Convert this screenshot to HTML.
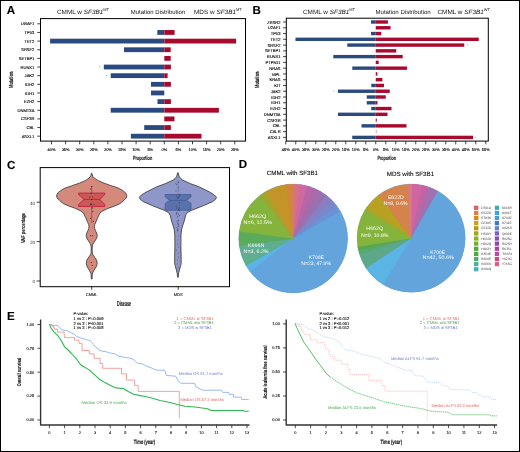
<!DOCTYPE html>
<html><head><meta charset="utf-8"><style>
html,body{margin:0;padding:0;background:#fff;}
svg{display:block;will-change:transform;text-rendering:geometricPrecision;font-family:"Liberation Sans", sans-serif;}
</style></head><body>
<svg width="520" height="452" viewBox="0 0 520 452" font-family='"Liberation Sans", sans-serif'>
<rect width="520" height="452" fill="#fff"/>
<rect x="0.5" y="0.5" width="519" height="451" fill="none" stroke="#000" stroke-width="1"/>
<text x="6.8" y="13.9" font-size="11.6" text-anchor="start" fill="#000" stroke="#000" stroke-width="0.12" font-weight="bold">A</text>
<text x="252.4" y="13.7" font-size="11.6" text-anchor="start" fill="#000" stroke="#000" stroke-width="0.12" font-weight="bold">B</text>
<text x="7.1" y="168.5" font-size="11.6" text-anchor="start" fill="#000" stroke="#000" stroke-width="0.12" font-weight="bold">C</text>
<text x="238.8" y="168.1" font-size="11.6" text-anchor="start" fill="#000" stroke="#000" stroke-width="0.12" font-weight="bold">D</text>
<text x="7.0" y="319.7" font-size="11.6" text-anchor="start" fill="#000" stroke="#000" stroke-width="0.12" font-weight="bold">E</text>
<rect x="157.30" y="30.05" width="7.00" height="4.80" fill="#2b4b80"/>
<rect x="164.30" y="30.05" width="10.30" height="4.80" fill="#a80a2e"/>
<rect x="50.10" y="38.69" width="114.20" height="4.80" fill="#2b4b80"/>
<rect x="164.30" y="38.69" width="71.80" height="4.80" fill="#a80a2e"/>
<rect x="124.00" y="47.34" width="40.30" height="4.80" fill="#2b4b80"/>
<rect x="164.30" y="47.34" width="6.40" height="4.80" fill="#a80a2e"/>
<rect x="164.30" y="55.98" width="6.40" height="4.80" fill="#a80a2e"/>
<rect x="103.80" y="64.62" width="60.50" height="4.80" fill="#2b4b80"/>
<rect x="164.30" y="64.62" width="6.60" height="4.80" fill="#a80a2e"/>
<rect x="110.70" y="73.27" width="53.60" height="4.80" fill="#2b4b80"/>
<rect x="164.30" y="73.27" width="3.30" height="4.80" fill="#a80a2e"/>
<rect x="151.00" y="81.91" width="13.30" height="4.80" fill="#2b4b80"/>
<rect x="164.30" y="81.91" width="6.60" height="4.80" fill="#a80a2e"/>
<rect x="151.00" y="90.56" width="13.30" height="4.80" fill="#2b4b80"/>
<rect x="157.50" y="99.20" width="6.80" height="4.80" fill="#2b4b80"/>
<rect x="164.30" y="99.20" width="6.60" height="4.80" fill="#a80a2e"/>
<rect x="110.70" y="107.85" width="53.60" height="4.80" fill="#2b4b80"/>
<rect x="164.30" y="107.85" width="54.60" height="4.80" fill="#a80a2e"/>
<rect x="164.30" y="116.49" width="10.20" height="4.80" fill="#a80a2e"/>
<rect x="144.20" y="125.14" width="20.10" height="4.80" fill="#2b4b80"/>
<rect x="164.30" y="125.14" width="6.60" height="4.80" fill="#a80a2e"/>
<rect x="130.90" y="133.78" width="33.40" height="4.80" fill="#2b4b80"/>
<rect x="164.30" y="133.78" width="37.20" height="4.80" fill="#a80a2e"/>
<circle cx="99.8" cy="66.725" r="0.45" fill="#333"/>
<circle cx="106.6" cy="75.37" r="0.45" fill="#333"/>
<rect x="40.5" y="18.6" width="205.0" height="122.5" fill="none" stroke="#000" stroke-width="1"/>
<line x1="37.3" y1="23.8" x2="40.5" y2="23.8" stroke="#111" stroke-width="0.8"/>
<text x="34.4" y="25.400000000000002" font-size="4.1" text-anchor="end" fill="#000" stroke="#000" stroke-width="0.12">UGAF1</text>
<line x1="37.3" y1="32.445" x2="40.5" y2="32.445" stroke="#111" stroke-width="0.8"/>
<text x="34.4" y="34.045" font-size="4.1" text-anchor="end" fill="#000" stroke="#000" stroke-width="0.12">TP53</text>
<line x1="37.3" y1="41.09" x2="40.5" y2="41.09" stroke="#111" stroke-width="0.8"/>
<text x="34.4" y="42.690000000000005" font-size="4.1" text-anchor="end" fill="#000" stroke="#000" stroke-width="0.12">TET2</text>
<line x1="37.3" y1="49.735" x2="40.5" y2="49.735" stroke="#111" stroke-width="0.8"/>
<text x="34.4" y="51.335" font-size="4.1" text-anchor="end" fill="#000" stroke="#000" stroke-width="0.12">SRSF2</text>
<line x1="37.3" y1="58.379999999999995" x2="40.5" y2="58.379999999999995" stroke="#111" stroke-width="0.8"/>
<text x="34.4" y="59.98" font-size="4.1" text-anchor="end" fill="#000" stroke="#000" stroke-width="0.12">SETBP1</text>
<line x1="37.3" y1="67.02499999999999" x2="40.5" y2="67.02499999999999" stroke="#111" stroke-width="0.8"/>
<text x="34.4" y="68.62499999999999" font-size="4.1" text-anchor="end" fill="#000" stroke="#000" stroke-width="0.12">RUNX1</text>
<line x1="37.3" y1="75.67" x2="40.5" y2="75.67" stroke="#111" stroke-width="0.8"/>
<text x="34.4" y="77.27" font-size="4.1" text-anchor="end" fill="#000" stroke="#000" stroke-width="0.12">JAK2</text>
<line x1="37.3" y1="84.315" x2="40.5" y2="84.315" stroke="#111" stroke-width="0.8"/>
<text x="34.4" y="85.91499999999999" font-size="4.1" text-anchor="end" fill="#000" stroke="#000" stroke-width="0.12">IDH2</text>
<line x1="37.3" y1="92.96" x2="40.5" y2="92.96" stroke="#111" stroke-width="0.8"/>
<text x="34.4" y="94.55999999999999" font-size="4.1" text-anchor="end" fill="#000" stroke="#000" stroke-width="0.12">IDH1</text>
<line x1="37.3" y1="101.60499999999999" x2="40.5" y2="101.60499999999999" stroke="#111" stroke-width="0.8"/>
<text x="34.4" y="103.20499999999998" font-size="4.1" text-anchor="end" fill="#000" stroke="#000" stroke-width="0.12">EZH2</text>
<line x1="37.3" y1="110.24999999999999" x2="40.5" y2="110.24999999999999" stroke="#111" stroke-width="0.8"/>
<text x="34.4" y="111.84999999999998" font-size="4.1" text-anchor="end" fill="#000" stroke="#000" stroke-width="0.12">DNMT3A</text>
<line x1="37.3" y1="118.895" x2="40.5" y2="118.895" stroke="#111" stroke-width="0.8"/>
<text x="34.4" y="120.49499999999999" font-size="4.1" text-anchor="end" fill="#000" stroke="#000" stroke-width="0.12">CSF3R</text>
<line x1="37.3" y1="127.53999999999999" x2="40.5" y2="127.53999999999999" stroke="#111" stroke-width="0.8"/>
<text x="34.4" y="129.14" font-size="4.1" text-anchor="end" fill="#000" stroke="#000" stroke-width="0.12">CBL</text>
<line x1="37.3" y1="136.185" x2="40.5" y2="136.185" stroke="#111" stroke-width="0.8"/>
<text x="34.4" y="137.785" font-size="4.1" text-anchor="end" fill="#000" stroke="#000" stroke-width="0.12">ASXL1</text>
<line x1="51.500000000000014" y1="141.1" x2="51.500000000000014" y2="144.29999999999998" stroke="#111" stroke-width="0.8"/>
<text x="51.500000000000014" y="151.0" font-size="3.9" text-anchor="middle" fill="#000" stroke="#000" stroke-width="0.12">40%</text>
<line x1="65.60000000000002" y1="141.1" x2="65.60000000000002" y2="144.29999999999998" stroke="#111" stroke-width="0.8"/>
<text x="65.60000000000002" y="151.0" font-size="3.9" text-anchor="middle" fill="#000" stroke="#000" stroke-width="0.12">35%</text>
<line x1="79.70000000000002" y1="141.1" x2="79.70000000000002" y2="144.29999999999998" stroke="#111" stroke-width="0.8"/>
<text x="79.70000000000002" y="151.0" font-size="3.9" text-anchor="middle" fill="#000" stroke="#000" stroke-width="0.12">30%</text>
<line x1="93.80000000000001" y1="141.1" x2="93.80000000000001" y2="144.29999999999998" stroke="#111" stroke-width="0.8"/>
<text x="93.80000000000001" y="151.0" font-size="3.9" text-anchor="middle" fill="#000" stroke="#000" stroke-width="0.12">25%</text>
<line x1="107.9" y1="141.1" x2="107.9" y2="144.29999999999998" stroke="#111" stroke-width="0.8"/>
<text x="107.9" y="151.0" font-size="3.9" text-anchor="middle" fill="#000" stroke="#000" stroke-width="0.12">20%</text>
<line x1="122.00000000000001" y1="141.1" x2="122.00000000000001" y2="144.29999999999998" stroke="#111" stroke-width="0.8"/>
<text x="122.00000000000001" y="151.0" font-size="3.9" text-anchor="middle" fill="#000" stroke="#000" stroke-width="0.12">15%</text>
<line x1="136.10000000000002" y1="141.1" x2="136.10000000000002" y2="144.29999999999998" stroke="#111" stroke-width="0.8"/>
<text x="136.10000000000002" y="151.0" font-size="3.9" text-anchor="middle" fill="#000" stroke="#000" stroke-width="0.12">10%</text>
<line x1="150.20000000000002" y1="141.1" x2="150.20000000000002" y2="144.29999999999998" stroke="#111" stroke-width="0.8"/>
<text x="150.20000000000002" y="151.0" font-size="3.9" text-anchor="middle" fill="#000" stroke="#000" stroke-width="0.12">5%</text>
<line x1="164.3" y1="141.1" x2="164.3" y2="144.29999999999998" stroke="#111" stroke-width="0.8"/>
<text x="164.3" y="151.0" font-size="3.9" text-anchor="middle" fill="#000" stroke="#000" stroke-width="0.12">0%</text>
<line x1="178.4" y1="141.1" x2="178.4" y2="144.29999999999998" stroke="#111" stroke-width="0.8"/>
<text x="178.4" y="151.0" font-size="3.9" text-anchor="middle" fill="#000" stroke="#000" stroke-width="0.12">5%</text>
<line x1="192.5" y1="141.1" x2="192.5" y2="144.29999999999998" stroke="#111" stroke-width="0.8"/>
<text x="192.5" y="151.0" font-size="3.9" text-anchor="middle" fill="#000" stroke="#000" stroke-width="0.12">10%</text>
<line x1="206.60000000000002" y1="141.1" x2="206.60000000000002" y2="144.29999999999998" stroke="#111" stroke-width="0.8"/>
<text x="206.60000000000002" y="151.0" font-size="3.9" text-anchor="middle" fill="#000" stroke="#000" stroke-width="0.12">15%</text>
<line x1="220.70000000000002" y1="141.1" x2="220.70000000000002" y2="144.29999999999998" stroke="#111" stroke-width="0.8"/>
<text x="220.70000000000002" y="151.0" font-size="3.9" text-anchor="middle" fill="#000" stroke="#000" stroke-width="0.12">20%</text>
<line x1="234.8" y1="141.1" x2="234.8" y2="144.29999999999998" stroke="#111" stroke-width="0.8"/>
<text x="234.8" y="151.0" font-size="3.9" text-anchor="middle" fill="#000" stroke="#000" stroke-width="0.12">25%</text>
<text x="57" y="14.2" font-size="6.2" fill="#111" textLength="52" lengthAdjust="spacingAndGlyphs">CMML w <tspan font-style="italic">SF3B1</tspan><tspan font-size="3.84" dy="-3.0">MT</tspan></text>
<text x="130.8" y="14.4" font-size="6" fill="#111" textLength="54.4" lengthAdjust="spacingAndGlyphs">Mutation Distribution</text>
<text x="194" y="14.2" font-size="6.2" fill="#111" textLength="47.7" lengthAdjust="spacingAndGlyphs">MDS w <tspan font-style="italic">SF3B1</tspan><tspan font-size="3.84" dy="-3.0">MT</tspan></text>
<text x="142.65" y="159.8" font-size="6.1" text-anchor="middle" fill="#111" stroke="#111" stroke-width="0.12" font-weight="bold" textLength="19.1" lengthAdjust="spacingAndGlyphs">Proportion</text>
<text x="13.0" y="79.75" font-size="5.9" text-anchor="middle" fill="#111" stroke="#111" stroke-width="0.12" font-weight="bold" textLength="16.4" lengthAdjust="spacingAndGlyphs" transform="rotate(-90 13.0 79.75)">Mutation</text>
<rect x="371.00" y="20.30" width="4.75" height="3.40" fill="#2b4b80"/>
<rect x="375.75" y="20.30" width="12.15" height="3.40" fill="#a80a2e"/>
<rect x="375.75" y="26.07" width="14.85" height="3.40" fill="#a80a2e"/>
<rect x="371.00" y="31.84" width="4.75" height="3.40" fill="#2b4b80"/>
<rect x="375.75" y="31.84" width="5.55" height="3.40" fill="#a80a2e"/>
<rect x="295.50" y="37.61" width="80.25" height="3.40" fill="#2b4b80"/>
<rect x="375.75" y="37.61" width="103.00" height="3.40" fill="#a80a2e"/>
<rect x="347.30" y="43.38" width="28.45" height="3.40" fill="#2b4b80"/>
<rect x="375.75" y="43.38" width="88.50" height="3.40" fill="#a80a2e"/>
<rect x="375.75" y="49.15" width="20.55" height="3.40" fill="#a80a2e"/>
<rect x="333.30" y="54.92" width="42.45" height="3.40" fill="#2b4b80"/>
<rect x="375.75" y="54.92" width="26.95" height="3.40" fill="#a80a2e"/>
<rect x="375.75" y="60.69" width="2.95" height="3.40" fill="#a80a2e"/>
<rect x="352.30" y="66.46" width="23.45" height="3.40" fill="#2b4b80"/>
<rect x="375.75" y="66.46" width="31.35" height="3.40" fill="#a80a2e"/>
<rect x="375.75" y="72.23" width="1.65" height="3.40" fill="#a80a2e"/>
<rect x="375.75" y="78.00" width="6.65" height="3.40" fill="#a80a2e"/>
<rect x="371.25" y="83.77" width="4.50" height="3.40" fill="#2b4b80"/>
<rect x="375.75" y="83.77" width="8.25" height="3.40" fill="#a80a2e"/>
<rect x="338.00" y="89.54" width="37.75" height="3.40" fill="#2b4b80"/>
<rect x="375.75" y="89.54" width="14.00" height="3.40" fill="#a80a2e"/>
<rect x="366.75" y="95.31" width="9.00" height="3.40" fill="#2b4b80"/>
<rect x="375.75" y="95.31" width="10.00" height="3.40" fill="#a80a2e"/>
<rect x="366.75" y="101.08" width="9.00" height="3.40" fill="#2b4b80"/>
<rect x="375.75" y="101.08" width="1.75" height="3.40" fill="#a80a2e"/>
<rect x="371.25" y="106.85" width="4.50" height="3.40" fill="#2b4b80"/>
<rect x="375.75" y="106.85" width="15.75" height="3.40" fill="#a80a2e"/>
<rect x="338.00" y="112.62" width="37.75" height="3.40" fill="#2b4b80"/>
<rect x="375.75" y="112.62" width="11.75" height="3.40" fill="#a80a2e"/>
<rect x="375.75" y="118.39" width="1.00" height="3.40" fill="#a80a2e"/>
<rect x="361.50" y="124.16" width="14.25" height="3.40" fill="#2b4b80"/>
<rect x="375.75" y="124.16" width="30.75" height="3.40" fill="#a80a2e"/>
<rect x="352.25" y="135.70" width="23.50" height="3.40" fill="#2b4b80"/>
<rect x="375.75" y="135.70" width="97.25" height="3.40" fill="#a80a2e"/>
<circle cx="467" cy="44.78" r="0.45" fill="#333"/>
<circle cx="334" cy="90.94" r="0.45" fill="#333"/>
<circle cx="475.5" cy="137.09999999999997" r="0.45" fill="#333"/>
<rect x="286.3" y="18.2" width="202.0" height="122.89999999999999" fill="none" stroke="#000" stroke-width="1"/>
<line x1="283.1" y1="22.0" x2="286.3" y2="22.0" stroke="#111" stroke-width="0.8"/>
<text x="280.6" y="23.6" font-size="4.1" text-anchor="end" fill="#000" stroke="#000" stroke-width="0.12">ZRSR2</text>
<line x1="283.1" y1="27.77" x2="286.3" y2="27.77" stroke="#111" stroke-width="0.8"/>
<text x="280.6" y="29.37" font-size="4.1" text-anchor="end" fill="#000" stroke="#000" stroke-width="0.12">U2AF1</text>
<line x1="283.1" y1="33.54" x2="286.3" y2="33.54" stroke="#111" stroke-width="0.8"/>
<text x="280.6" y="35.14" font-size="4.1" text-anchor="end" fill="#000" stroke="#000" stroke-width="0.12">TP53</text>
<line x1="283.1" y1="39.31" x2="286.3" y2="39.31" stroke="#111" stroke-width="0.8"/>
<text x="280.6" y="40.910000000000004" font-size="4.1" text-anchor="end" fill="#000" stroke="#000" stroke-width="0.12">TET2</text>
<line x1="283.1" y1="45.08" x2="286.3" y2="45.08" stroke="#111" stroke-width="0.8"/>
<text x="280.6" y="46.68" font-size="4.1" text-anchor="end" fill="#000" stroke="#000" stroke-width="0.12">SRSF2</text>
<line x1="283.1" y1="50.849999999999994" x2="286.3" y2="50.849999999999994" stroke="#111" stroke-width="0.8"/>
<text x="280.6" y="52.449999999999996" font-size="4.1" text-anchor="end" fill="#000" stroke="#000" stroke-width="0.12">SETBP1</text>
<line x1="283.1" y1="56.62" x2="286.3" y2="56.62" stroke="#111" stroke-width="0.8"/>
<text x="280.6" y="58.22" font-size="4.1" text-anchor="end" fill="#000" stroke="#000" stroke-width="0.12">RUNX1</text>
<line x1="283.1" y1="62.39" x2="286.3" y2="62.39" stroke="#111" stroke-width="0.8"/>
<text x="280.6" y="63.99" font-size="4.1" text-anchor="end" fill="#000" stroke="#000" stroke-width="0.12">PTPN11</text>
<line x1="283.1" y1="68.16" x2="286.3" y2="68.16" stroke="#111" stroke-width="0.8"/>
<text x="280.6" y="69.75999999999999" font-size="4.1" text-anchor="end" fill="#000" stroke="#000" stroke-width="0.12">NRAS</text>
<line x1="283.1" y1="73.92999999999999" x2="286.3" y2="73.92999999999999" stroke="#111" stroke-width="0.8"/>
<text x="280.6" y="75.52999999999999" font-size="4.1" text-anchor="end" fill="#000" stroke="#000" stroke-width="0.12">MPL</text>
<line x1="283.1" y1="79.69999999999999" x2="286.3" y2="79.69999999999999" stroke="#111" stroke-width="0.8"/>
<text x="280.6" y="81.29999999999998" font-size="4.1" text-anchor="end" fill="#000" stroke="#000" stroke-width="0.12">KRAS</text>
<line x1="283.1" y1="85.47" x2="286.3" y2="85.47" stroke="#111" stroke-width="0.8"/>
<text x="280.6" y="87.07" font-size="4.1" text-anchor="end" fill="#000" stroke="#000" stroke-width="0.12">KIT</text>
<line x1="283.1" y1="91.24" x2="286.3" y2="91.24" stroke="#111" stroke-width="0.8"/>
<text x="280.6" y="92.83999999999999" font-size="4.1" text-anchor="end" fill="#000" stroke="#000" stroke-width="0.12">JAK2</text>
<line x1="283.1" y1="97.00999999999999" x2="286.3" y2="97.00999999999999" stroke="#111" stroke-width="0.8"/>
<text x="280.6" y="98.60999999999999" font-size="4.1" text-anchor="end" fill="#000" stroke="#000" stroke-width="0.12">IDH2</text>
<line x1="283.1" y1="102.78" x2="286.3" y2="102.78" stroke="#111" stroke-width="0.8"/>
<text x="280.6" y="104.38" font-size="4.1" text-anchor="end" fill="#000" stroke="#000" stroke-width="0.12">IDH1</text>
<line x1="283.1" y1="108.55" x2="286.3" y2="108.55" stroke="#111" stroke-width="0.8"/>
<text x="280.6" y="110.14999999999999" font-size="4.1" text-anchor="end" fill="#000" stroke="#000" stroke-width="0.12">EZH2</text>
<line x1="283.1" y1="114.32" x2="286.3" y2="114.32" stroke="#111" stroke-width="0.8"/>
<text x="280.6" y="115.91999999999999" font-size="4.1" text-anchor="end" fill="#000" stroke="#000" stroke-width="0.12">DNMT3A</text>
<line x1="283.1" y1="120.08999999999999" x2="286.3" y2="120.08999999999999" stroke="#111" stroke-width="0.8"/>
<text x="280.6" y="121.68999999999998" font-size="4.1" text-anchor="end" fill="#000" stroke="#000" stroke-width="0.12">CSF3R</text>
<line x1="283.1" y1="125.85999999999999" x2="286.3" y2="125.85999999999999" stroke="#111" stroke-width="0.8"/>
<text x="280.6" y="127.45999999999998" font-size="4.1" text-anchor="end" fill="#000" stroke="#000" stroke-width="0.12">CBL</text>
<line x1="283.1" y1="131.63" x2="286.3" y2="131.63" stroke="#111" stroke-width="0.8"/>
<text x="280.6" y="133.23" font-size="4.1" text-anchor="end" fill="#000" stroke="#000" stroke-width="0.12">CALR</text>
<line x1="283.1" y1="137.39999999999998" x2="286.3" y2="137.39999999999998" stroke="#111" stroke-width="0.8"/>
<text x="280.6" y="138.99999999999997" font-size="4.1" text-anchor="end" fill="#000" stroke="#000" stroke-width="0.12">ASXL1</text>
<line x1="285.75" y1="141.1" x2="285.75" y2="144.29999999999998" stroke="#111" stroke-width="0.8"/>
<text x="285.75" y="151.0" font-size="3.9" text-anchor="middle" fill="#000" stroke="#000" stroke-width="0.12">45%</text>
<line x1="295.75" y1="141.1" x2="295.75" y2="144.29999999999998" stroke="#111" stroke-width="0.8"/>
<text x="295.75" y="151.0" font-size="3.9" text-anchor="middle" fill="#000" stroke="#000" stroke-width="0.12">40%</text>
<line x1="305.75" y1="141.1" x2="305.75" y2="144.29999999999998" stroke="#111" stroke-width="0.8"/>
<text x="305.75" y="151.0" font-size="3.9" text-anchor="middle" fill="#000" stroke="#000" stroke-width="0.12">35%</text>
<line x1="315.75" y1="141.1" x2="315.75" y2="144.29999999999998" stroke="#111" stroke-width="0.8"/>
<text x="315.75" y="151.0" font-size="3.9" text-anchor="middle" fill="#000" stroke="#000" stroke-width="0.12">30%</text>
<line x1="325.75" y1="141.1" x2="325.75" y2="144.29999999999998" stroke="#111" stroke-width="0.8"/>
<text x="325.75" y="151.0" font-size="3.9" text-anchor="middle" fill="#000" stroke="#000" stroke-width="0.12">25%</text>
<line x1="335.75" y1="141.1" x2="335.75" y2="144.29999999999998" stroke="#111" stroke-width="0.8"/>
<text x="335.75" y="151.0" font-size="3.9" text-anchor="middle" fill="#000" stroke="#000" stroke-width="0.12">20%</text>
<line x1="345.75" y1="141.1" x2="345.75" y2="144.29999999999998" stroke="#111" stroke-width="0.8"/>
<text x="345.75" y="151.0" font-size="3.9" text-anchor="middle" fill="#000" stroke="#000" stroke-width="0.12">15%</text>
<line x1="355.75" y1="141.1" x2="355.75" y2="144.29999999999998" stroke="#111" stroke-width="0.8"/>
<text x="355.75" y="151.0" font-size="3.9" text-anchor="middle" fill="#000" stroke="#000" stroke-width="0.12">10%</text>
<line x1="365.75" y1="141.1" x2="365.75" y2="144.29999999999998" stroke="#111" stroke-width="0.8"/>
<text x="365.75" y="151.0" font-size="3.9" text-anchor="middle" fill="#000" stroke="#000" stroke-width="0.12">5%</text>
<line x1="375.75" y1="141.1" x2="375.75" y2="144.29999999999998" stroke="#111" stroke-width="0.8"/>
<text x="375.75" y="151.0" font-size="3.9" text-anchor="middle" fill="#000" stroke="#000" stroke-width="0.12">0%</text>
<line x1="385.75" y1="141.1" x2="385.75" y2="144.29999999999998" stroke="#111" stroke-width="0.8"/>
<text x="385.75" y="151.0" font-size="3.9" text-anchor="middle" fill="#000" stroke="#000" stroke-width="0.12">5%</text>
<line x1="395.75" y1="141.1" x2="395.75" y2="144.29999999999998" stroke="#111" stroke-width="0.8"/>
<text x="395.75" y="151.0" font-size="3.9" text-anchor="middle" fill="#000" stroke="#000" stroke-width="0.12">10%</text>
<line x1="405.75" y1="141.1" x2="405.75" y2="144.29999999999998" stroke="#111" stroke-width="0.8"/>
<text x="405.75" y="151.0" font-size="3.9" text-anchor="middle" fill="#000" stroke="#000" stroke-width="0.12">15%</text>
<line x1="415.75" y1="141.1" x2="415.75" y2="144.29999999999998" stroke="#111" stroke-width="0.8"/>
<text x="415.75" y="151.0" font-size="3.9" text-anchor="middle" fill="#000" stroke="#000" stroke-width="0.12">20%</text>
<line x1="425.75" y1="141.1" x2="425.75" y2="144.29999999999998" stroke="#111" stroke-width="0.8"/>
<text x="425.75" y="151.0" font-size="3.9" text-anchor="middle" fill="#000" stroke="#000" stroke-width="0.12">25%</text>
<line x1="435.75" y1="141.1" x2="435.75" y2="144.29999999999998" stroke="#111" stroke-width="0.8"/>
<text x="435.75" y="151.0" font-size="3.9" text-anchor="middle" fill="#000" stroke="#000" stroke-width="0.12">30%</text>
<line x1="445.75" y1="141.1" x2="445.75" y2="144.29999999999998" stroke="#111" stroke-width="0.8"/>
<text x="445.75" y="151.0" font-size="3.9" text-anchor="middle" fill="#000" stroke="#000" stroke-width="0.12">35%</text>
<line x1="455.75" y1="141.1" x2="455.75" y2="144.29999999999998" stroke="#111" stroke-width="0.8"/>
<text x="455.75" y="151.0" font-size="3.9" text-anchor="middle" fill="#000" stroke="#000" stroke-width="0.12">40%</text>
<line x1="465.75" y1="141.1" x2="465.75" y2="144.29999999999998" stroke="#111" stroke-width="0.8"/>
<text x="465.75" y="151.0" font-size="3.9" text-anchor="middle" fill="#000" stroke="#000" stroke-width="0.12">45%</text>
<line x1="475.75" y1="141.1" x2="475.75" y2="144.29999999999998" stroke="#111" stroke-width="0.8"/>
<text x="475.75" y="151.0" font-size="3.9" text-anchor="middle" fill="#000" stroke="#000" stroke-width="0.12">50%</text>
<line x1="485.75" y1="141.1" x2="485.75" y2="144.29999999999998" stroke="#111" stroke-width="0.8"/>
<text x="485.75" y="151.0" font-size="3.9" text-anchor="middle" fill="#000" stroke="#000" stroke-width="0.12">55%</text>
<text x="303" y="14.2" font-size="6.2" fill="#111" textLength="52" lengthAdjust="spacingAndGlyphs">CMML w <tspan font-style="italic">SF3B1</tspan><tspan font-size="3.84" dy="-3.0">MT</tspan></text>
<text x="375.5" y="14.4" font-size="6" fill="#111" textLength="55.25" lengthAdjust="spacingAndGlyphs">Mutation Distribution</text>
<text x="437.5" y="14.2" font-size="6.2" fill="#111" textLength="52.5" lengthAdjust="spacingAndGlyphs">CMML w <tspan font-style="italic">SF3B1</tspan><tspan font-size="3.84" dy="-3.0">WT</tspan></text>
<text x="386.75" y="159.8" font-size="6.1" text-anchor="middle" fill="#111" stroke="#111" stroke-width="0.12" font-weight="bold" textLength="18.5" lengthAdjust="spacingAndGlyphs">Proportion</text>
<text x="259.3" y="79.75" font-size="5.9" text-anchor="middle" fill="#111" stroke="#111" stroke-width="0.12" font-weight="bold" textLength="16.4" lengthAdjust="spacingAndGlyphs" transform="rotate(-90 259.3 79.75)">Mutation</text>
<rect x="375.75" y="129.93" width="1.00" height="3.40" fill="#e8a0b0"/>
<path d="M91.40,173.30 L91.10,175.00 L90.50,176.50 L89.10,178.00 L85.70,180.40 L79.70,183.00 L72.70,185.50 L65.20,188.00 L60.70,190.50 L57.70,193.00 L56.50,195.80 L57.20,198.00 L59.70,200.50 L63.20,203.50 L68.70,206.00 L75.70,208.50 L81.20,211.20 L83.40,213.00 L84.40,215.00 L86.20,218.80 L87.30,221.60 L88.60,224.50 L89.00,226.60 L88.70,228.50 L87.90,230.80 L86.80,233.00 L86.10,235.80 L86.70,238.00 L87.90,240.00 L89.50,242.50 L90.80,244.90 L91.20,247.00 L91.20,253.00 L90.40,254.90 L88.90,257.00 L87.50,259.00 L86.60,261.00 L86.20,263.50 L86.90,266.00 L88.00,268.20 L89.50,270.50 L90.80,273.10 L91.20,275.00 L91.30,279.00 L92.10,279.00 L92.20,275.00 L92.60,273.10 L93.90,270.50 L95.40,268.20 L96.50,266.00 L97.20,263.50 L96.80,261.00 L95.90,259.00 L94.50,257.00 L93.00,254.90 L92.20,253.00 L92.20,247.00 L92.60,244.90 L93.90,242.50 L95.50,240.00 L96.70,238.00 L97.30,235.80 L96.60,233.00 L95.50,230.80 L94.70,228.50 L94.40,226.60 L94.80,224.50 L96.10,221.60 L97.20,218.80 L99.00,215.00 L100.00,213.00 L102.20,211.20 L107.70,208.50 L114.70,206.00 L120.20,203.50 L123.70,200.50 L126.20,198.00 L126.90,195.80 L125.70,193.00 L122.70,190.50 L118.20,188.00 L110.70,185.50 L103.70,183.00 L97.70,180.40 L94.30,178.00 L92.90,176.50 L92.30,175.00 L92.00,173.30Z" fill="#d4897c" stroke="#333" stroke-width="0.8" stroke-linejoin="round"/>
<path d="M177.60,172.80 L177.10,175.00 L176.50,176.70 L175.10,178.50 L173.10,180.10 L165.40,183.60 L156.30,187.00 L145.90,192.20 L141.40,195.00 L139.20,197.40 L140.40,199.50 L143.30,201.70 L153.20,206.00 L164.50,210.40 L168.40,212.50 L169.90,214.70 L170.60,217.00 L171.30,220.00 L172.90,225.00 L174.30,230.00 L174.80,235.00 L174.90,245.00 L174.70,255.00 L174.60,263.10 L175.10,265.50 L175.80,268.10 L176.40,270.00 L176.90,272.30 L177.30,274.00 L177.50,277.20 L178.30,277.20 L178.50,274.00 L178.90,272.30 L179.40,270.00 L180.00,268.10 L180.70,265.50 L181.20,263.10 L181.10,255.00 L180.90,245.00 L181.00,235.00 L181.50,230.00 L182.90,225.00 L184.50,220.00 L185.20,217.00 L185.90,214.70 L187.40,212.50 L191.30,210.40 L202.60,206.00 L212.50,201.70 L215.40,199.50 L216.60,197.40 L214.40,195.00 L209.90,192.20 L199.50,187.00 L190.40,183.60 L182.70,180.10 L180.70,178.50 L179.30,176.70 L178.70,175.00 L178.20,172.80Z" fill="#8e97c8" stroke="#333" stroke-width="0.8" stroke-linejoin="round"/>
<line x1="91.7" y1="186" x2="91.7" y2="223" stroke="#c0283a" stroke-width="0.7"/>
<path d="M78.6,193.1 L104.8,193.1 L104.8,194.6 L99.8,199.4 L104.8,204.6 L104.8,206.4 L78.6,206.4 L78.6,204.6 L84.2,199.4 L78.6,194.6Z" fill="#c95a56" stroke="#c41e3a" stroke-width="0.9" stroke-linejoin="miter"/>
<line x1="84.2" y1="199.4" x2="99.8" y2="199.4" stroke="#c41e3a" stroke-width="0.9"/>
<line x1="177.9" y1="180" x2="177.9" y2="232" stroke="#5a6aa8" stroke-width="0.4"/>
<path d="M165.2,194.5 L191.0,194.5 L191.0,196.8 L186.5,200.4 L191.0,203.4 L191.0,210.2 L165.2,210.2 L165.2,203.4 L169.5,200.4 L165.2,196.8Z" fill="#5b71aa" stroke="#3f5a9a" stroke-width="0.8" stroke-linejoin="miter"/>
<line x1="169.5" y1="200.4" x2="186.5" y2="200.4" stroke="#3f5a9a" stroke-width="0.8"/>
<circle cx="91.8" cy="186.6" r="0.55" fill="#222"/>
<circle cx="90.4" cy="189" r="0.55" fill="#222"/>
<circle cx="91" cy="193.3" r="0.55" fill="#222"/>
<circle cx="89.8" cy="197" r="0.55" fill="#222"/>
<circle cx="92.8" cy="197" r="0.55" fill="#222"/>
<circle cx="91.6" cy="199.4" r="0.55" fill="#222"/>
<circle cx="91" cy="204.3" r="0.55" fill="#222"/>
<circle cx="94" cy="204.3" r="0.55" fill="#222"/>
<circle cx="92.2" cy="207.9" r="0.55" fill="#222"/>
<circle cx="92.8" cy="211.6" r="0.55" fill="#222"/>
<circle cx="90.4" cy="218.3" r="0.55" fill="#222"/>
<circle cx="93.4" cy="221.3" r="0.55" fill="#222"/>
<circle cx="90.6" cy="235.8" r="0.55" fill="#222"/>
<circle cx="92.6" cy="235.8" r="0.55" fill="#222"/>
<circle cx="91.2" cy="262.5" r="0.55" fill="#222"/>
<circle cx="92.2" cy="265.5" r="0.55" fill="#222"/>
<circle cx="91" cy="204.3" r="0.8" fill="#222"/>
<circle cx="178.08" cy="182.0" r="0.45" fill="#2a2a3a"/>
<circle cx="178.32" cy="182.5" r="0.45" fill="#2a2a3a"/>
<circle cx="175.95" cy="183.5" r="0.45" fill="#2a2a3a"/>
<circle cx="176.84" cy="184.5" r="0.45" fill="#2a2a3a"/>
<circle cx="178.44" cy="187.5" r="0.45" fill="#2a2a3a"/>
<circle cx="178.93" cy="190.0" r="0.45" fill="#2a2a3a"/>
<circle cx="176.02" cy="191.0" r="0.45" fill="#2a2a3a"/>
<circle cx="179.10" cy="194.5" r="0.45" fill="#2a2a3a"/>
<circle cx="179.64" cy="195.0" r="0.45" fill="#2a2a3a"/>
<circle cx="176.44" cy="196.0" r="0.45" fill="#2a2a3a"/>
<circle cx="179.76" cy="196.5" r="0.45" fill="#2a2a3a"/>
<circle cx="178.41" cy="197.0" r="0.45" fill="#2a2a3a"/>
<circle cx="177.93" cy="197.5" r="0.45" fill="#2a2a3a"/>
<circle cx="177.30" cy="198.0" r="0.45" fill="#2a2a3a"/>
<circle cx="179.34" cy="202.5" r="0.45" fill="#2a2a3a"/>
<circle cx="179.23" cy="205.0" r="0.45" fill="#2a2a3a"/>
<circle cx="176.15" cy="206.0" r="0.45" fill="#2a2a3a"/>
<circle cx="179.10" cy="207.5" r="0.45" fill="#2a2a3a"/>
<circle cx="176.50" cy="208.0" r="0.45" fill="#2a2a3a"/>
<circle cx="178.98" cy="208.5" r="0.45" fill="#2a2a3a"/>
<circle cx="178.36" cy="209.5" r="0.45" fill="#2a2a3a"/>
<circle cx="178.77" cy="210.0" r="0.45" fill="#2a2a3a"/>
<circle cx="179.42" cy="210.5" r="0.45" fill="#2a2a3a"/>
<circle cx="176.21" cy="212.5" r="0.45" fill="#2a2a3a"/>
<circle cx="176.69" cy="213.5" r="0.45" fill="#2a2a3a"/>
<circle cx="178.34" cy="214.0" r="0.45" fill="#2a2a3a"/>
<circle cx="176.07" cy="214.5" r="0.45" fill="#2a2a3a"/>
<circle cx="179.73" cy="215.5" r="0.45" fill="#2a2a3a"/>
<circle cx="177.74" cy="216.5" r="0.45" fill="#2a2a3a"/>
<circle cx="178.78" cy="220.5" r="0.45" fill="#2a2a3a"/>
<circle cx="177.10" cy="221.0" r="0.45" fill="#2a2a3a"/>
<circle cx="177.56" cy="223.0" r="0.45" fill="#2a2a3a"/>
<circle cx="178.36" cy="224.0" r="0.45" fill="#2a2a3a"/>
<circle cx="178.41" cy="225.0" r="0.45" fill="#2a2a3a"/>
<circle cx="178.73" cy="226.5" r="0.45" fill="#2a2a3a"/>
<circle cx="176.14" cy="227.5" r="0.45" fill="#2a2a3a"/>
<circle cx="177.73" cy="229.0" r="0.45" fill="#2a2a3a"/>
<circle cx="177.36" cy="230.0" r="0.45" fill="#2a2a3a"/>
<circle cx="177.38" cy="230.5" r="0.45" fill="#2a2a3a"/>
<circle cx="178.15" cy="236" r="0.45" fill="#2a2a3a"/>
<circle cx="177.38" cy="240" r="0.45" fill="#2a2a3a"/>
<circle cx="177.58" cy="244" r="0.45" fill="#2a2a3a"/>
<circle cx="178.61" cy="247" r="0.45" fill="#2a2a3a"/>
<circle cx="176.67" cy="250" r="0.45" fill="#2a2a3a"/>
<circle cx="178.08" cy="253" r="0.45" fill="#2a2a3a"/>
<circle cx="178.51" cy="257" r="0.45" fill="#2a2a3a"/>
<circle cx="177.41" cy="260" r="0.45" fill="#2a2a3a"/>
<circle cx="177.18" cy="264" r="0.45" fill="#2a2a3a"/>
<circle cx="178.69" cy="268" r="0.45" fill="#2a2a3a"/>
<rect x="40.2" y="167.6" width="189.3" height="119.1" fill="none" stroke="#000" stroke-width="1"/>
<line x1="36.6" y1="202.2" x2="40.2" y2="202.2" stroke="#111" stroke-width="0.8"/>
<text x="35.2" y="204.5" font-size="4.7" text-anchor="end" fill="#333">40</text>
<line x1="36.6" y1="241.6" x2="40.2" y2="241.6" stroke="#111" stroke-width="0.8"/>
<text x="35.2" y="243.9" font-size="4.7" text-anchor="end" fill="#333">20</text>
<line x1="36.6" y1="281" x2="40.2" y2="281" stroke="#111" stroke-width="0.8"/>
<text x="35.2" y="283.3" font-size="4.7" text-anchor="end" fill="#333">0</text>
<text x="25.4" y="228" font-size="5.6" text-anchor="middle" fill="#111" stroke="#111" stroke-width="0.12" font-weight="bold" textLength="30" lengthAdjust="spacingAndGlyphs" transform="rotate(-90 25.4 228)">VAF percentage</text>
<line x1="91.7" y1="286.7" x2="91.7" y2="289.8" stroke="#111" stroke-width="0.8"/>
<text x="91.7" y="295.6" font-size="3.9" text-anchor="middle" fill="#222" stroke="#222" stroke-width="0.12">CMML</text>
<line x1="178.2" y1="286.7" x2="178.2" y2="289.8" stroke="#111" stroke-width="0.8"/>
<text x="178.2" y="295.6" font-size="3.9" text-anchor="middle" fill="#222" stroke="#222" stroke-width="0.12">MDS</text>
<text x="124.05" y="306" font-size="7.2" text-anchor="middle" fill="#111" stroke="#111" stroke-width="0.12" font-weight="bold" textLength="14.3" lengthAdjust="spacingAndGlyphs">Disease</text>
<circle cx="293.2" cy="238.5" r="54.4" fill="#63a4dc"/>
<path d="M293.2,238.5 L293.20,184.10 A54.4,54.4 0 0 1 301.05,184.67Z" fill="#d4708a" stroke="#d4708a" stroke-width="0.3"/>
<path d="M293.2,238.5 L300.30,184.57 A54.4,54.4 0 0 1 308.01,186.16Z" fill="#cf68a0" stroke="#cf68a0" stroke-width="0.3"/>
<path d="M293.2,238.5 L307.28,185.95 A54.4,54.4 0 0 1 314.72,188.54Z" fill="#b866a8" stroke="#b866a8" stroke-width="0.3"/>
<path d="M293.2,238.5 L314.02,188.24 A54.4,54.4 0 0 1 321.06,191.77Z" fill="#a86aa8" stroke="#a86aa8" stroke-width="0.3"/>
<path d="M293.2,238.5 L320.40,191.39 A54.4,54.4 0 0 1 326.92,195.81Z" fill="#9a70b0" stroke="#9a70b0" stroke-width="0.3"/>
<path d="M293.2,238.5 L326.32,195.34 A54.4,54.4 0 0 1 332.20,200.57Z" fill="#8a7ec0" stroke="#8a7ec0" stroke-width="0.3"/>
<path d="M293.2,238.5 L331.67,200.03 A54.4,54.4 0 0 1 336.82,205.99Z" fill="#7a88c8" stroke="#7a88c8" stroke-width="0.3"/>
<path d="M293.2,238.5 L336.36,205.38 A54.4,54.4 0 0 1 340.69,211.96Z" fill="#6a92d4" stroke="#6a92d4" stroke-width="0.3"/>
<path d="M293.2,238.5 L340.31,211.30 A54.4,54.4 0 0 1 249.58,271.01Z" fill="#63a4dc" stroke="#63a4dc" stroke-width="0.3"/>
<path d="M293.2,238.5 L250.04,271.62 A54.4,54.4 0 0 1 245.71,265.04Z" fill="#5ab4e6" stroke="#5ab4e6" stroke-width="0.3"/>
<path d="M293.2,238.5 L246.09,265.70 A54.4,54.4 0 0 1 239.17,244.85Z" fill="#60ae90" stroke="#60ae90" stroke-width="0.3"/>
<path d="M293.2,238.5 L239.27,245.60 A54.4,54.4 0 0 1 239.37,230.65Z" fill="#5aab5a" stroke="#5aab5a" stroke-width="0.3"/>
<path d="M293.2,238.5 L239.27,231.40 A54.4,54.4 0 0 1 260.69,194.88Z" fill="#85b43c" stroke="#85b43c" stroke-width="0.3"/>
<path d="M293.2,238.5 L260.08,195.34 A54.4,54.4 0 0 1 266.66,191.01Z" fill="#a4a42c" stroke="#a4a42c" stroke-width="0.3"/>
<path d="M293.2,238.5 L266.00,191.39 A54.4,54.4 0 0 1 286.85,184.47Z" fill="#c39428" stroke="#c39428" stroke-width="0.3"/>
<path d="M293.2,238.5 L286.10,184.57 A54.4,54.4 0 0 1 293.96,184.11Z" fill="#d5843f" stroke="#d5843f" stroke-width="0.3"/>
<circle cx="411.2" cy="238.2" r="54.1" fill="#63a4dc"/>
<path d="M411.2,238.2 L411.20,184.10 A54.1,54.1 0 0 1 423.00,185.40Z" fill="#cf66a0" stroke="#cf66a0" stroke-width="0.3"/>
<path d="M411.2,238.2 L422.26,185.24 A54.1,54.1 0 0 1 426.66,186.35Z" fill="#c862a2" stroke="#c862a2" stroke-width="0.3"/>
<path d="M411.2,238.2 L425.93,186.14 A54.1,54.1 0 0 1 430.85,187.80Z" fill="#b868a8" stroke="#b868a8" stroke-width="0.3"/>
<path d="M411.2,238.2 L430.15,187.53 A54.1,54.1 0 0 1 438.49,191.49Z" fill="#a070b0" stroke="#a070b0" stroke-width="0.3"/>
<path d="M411.2,238.2 L437.84,191.11 A54.1,54.1 0 1 1 382.69,284.18Z" fill="#63a4dc" stroke="#63a4dc" stroke-width="0.3"/>
<path d="M411.2,238.2 L383.34,284.57 A54.1,54.1 0 0 1 365.67,267.43Z" fill="#5ab4e4" stroke="#5ab4e4" stroke-width="0.3"/>
<path d="M411.2,238.2 L366.09,268.06 A54.1,54.1 0 0 1 359.25,253.29Z" fill="#5ca888" stroke="#5ca888" stroke-width="0.3"/>
<path d="M411.2,238.2 L359.46,254.02 A54.1,54.1 0 0 1 358.32,249.63Z" fill="#58a870" stroke="#58a870" stroke-width="0.3"/>
<path d="M411.2,238.2 L358.49,250.37 A54.1,54.1 0 0 1 357.65,245.92Z" fill="#5aa650" stroke="#5aa650" stroke-width="0.3"/>
<path d="M411.2,238.2 L357.77,246.66 A54.1,54.1 0 0 1 364.83,210.34Z" fill="#85b43c" stroke="#85b43c" stroke-width="0.3"/>
<path d="M411.2,238.2 L364.44,210.99 A54.1,54.1 0 0 1 367.05,206.94Z" fill="#94ae30" stroke="#94ae30" stroke-width="0.3"/>
<path d="M411.2,238.2 L366.61,207.56 A54.1,54.1 0 0 1 379.17,194.60Z" fill="#b8a020" stroke="#b8a020" stroke-width="0.3"/>
<path d="M411.2,238.2 L378.57,195.05 A54.1,54.1 0 0 1 408.65,184.16Z" fill="#d4834a" stroke="#d4834a" stroke-width="0.3"/>
<path d="M411.2,238.2 L407.90,184.20 A54.1,54.1 0 0 1 411.96,184.11Z" fill="#d67a8a" stroke="#d67a8a" stroke-width="0.3"/>
<text x="292.4" y="175" font-size="6.1" text-anchor="middle" fill="#111" stroke="#111" stroke-width="0.12" textLength="51.2" lengthAdjust="spacingAndGlyphs">CMML with SF3B1</text>
<text x="410.5" y="176" font-size="6.1" text-anchor="middle" fill="#111" stroke="#111" stroke-width="0.12" textLength="47.4" lengthAdjust="spacingAndGlyphs">MDS with SF3B1</text>
<text x="257.65" y="217.9" font-size="5.1" text-anchor="middle" fill="#fff" textLength="17" lengthAdjust="spacingAndGlyphs">H662Q</text>
<text x="257.75" y="223.9" font-size="5.1" text-anchor="middle" fill="#fff" textLength="28.3" lengthAdjust="spacingAndGlyphs">N=6, 12.5%</text>
<text x="256.1" y="247.1" font-size="5.1" text-anchor="middle" fill="#fff" textLength="16.4" lengthAdjust="spacingAndGlyphs">K666N</text>
<text x="256.1" y="253.3" font-size="5.1" text-anchor="middle" fill="#fff" textLength="25" lengthAdjust="spacingAndGlyphs">N=3, 6.2%</text>
<text x="316.3" y="258.7" font-size="5.1" text-anchor="middle" fill="#fff" textLength="15" lengthAdjust="spacingAndGlyphs">K700E</text>
<text x="316.15" y="264.6" font-size="5.1" text-anchor="middle" fill="#fff" textLength="29.7" lengthAdjust="spacingAndGlyphs">N=23, 47.9%</text>
<text x="395.85" y="198.7" font-size="5.1" text-anchor="middle" fill="#fff" textLength="15.9" lengthAdjust="spacingAndGlyphs">E622D</text>
<text x="395.6" y="204.7" font-size="5.1" text-anchor="middle" fill="#fff" textLength="24.2" lengthAdjust="spacingAndGlyphs">N=8, 9.6%</text>
<text x="374.7" y="230.4" font-size="5.1" text-anchor="middle" fill="#fff" textLength="16.8" lengthAdjust="spacingAndGlyphs">H662Q</text>
<text x="374.75" y="236.5" font-size="5.1" text-anchor="middle" fill="#fff" textLength="27.5" lengthAdjust="spacingAndGlyphs">N=9, 10.8%</text>
<text x="437.6" y="253.5" font-size="5.1" text-anchor="middle" fill="#fff" textLength="14.8" lengthAdjust="spacingAndGlyphs">K700E</text>
<text x="438.1" y="259.1" font-size="5.1" text-anchor="middle" fill="#fff" textLength="31.2" lengthAdjust="spacingAndGlyphs">N=42, 50.6%</text>
<rect x="474.00" y="205.70" width="4.40" height="4.20" fill="#d9606a"/>
<text x="481.3" y="209.0" font-size="3.4" text-anchor="start" fill="#444" textLength="10" lengthAdjust="spacingAndGlyphs">D781G</text>
<rect x="474.00" y="210.82" width="4.40" height="4.20" fill="#e07f3d"/>
<text x="481.3" y="214.12" font-size="3.4" text-anchor="start" fill="#444" textLength="10" lengthAdjust="spacingAndGlyphs">E622D</text>
<rect x="474.00" y="215.94" width="4.40" height="4.20" fill="#d98a14"/>
<text x="481.3" y="219.24" font-size="3.4" text-anchor="start" fill="#444" textLength="10" lengthAdjust="spacingAndGlyphs">E783K</text>
<rect x="474.00" y="221.06" width="4.40" height="4.20" fill="#c5a321"/>
<text x="481.3" y="224.36" font-size="3.4" text-anchor="start" fill="#444" textLength="10" lengthAdjust="spacingAndGlyphs">G740E</text>
<rect x="474.00" y="226.18" width="4.40" height="4.20" fill="#b59a10"/>
<text x="481.3" y="229.48" font-size="3.4" text-anchor="start" fill="#444" textLength="10" lengthAdjust="spacingAndGlyphs">G742D</text>
<rect x="474.00" y="231.30" width="4.40" height="4.20" fill="#a0a41c"/>
<text x="481.3" y="234.6" font-size="3.4" text-anchor="start" fill="#444" textLength="10" lengthAdjust="spacingAndGlyphs">H519Y</text>
<rect x="474.00" y="236.42" width="4.40" height="4.20" fill="#88ae2a"/>
<text x="481.3" y="239.72" font-size="3.4" text-anchor="start" fill="#444" textLength="10" lengthAdjust="spacingAndGlyphs">H662D</text>
<rect x="474.00" y="241.54" width="4.40" height="4.20" fill="#7ab030"/>
<text x="481.3" y="244.84" font-size="3.4" text-anchor="start" fill="#444" textLength="10" lengthAdjust="spacingAndGlyphs">H662Q</text>
<rect x="474.00" y="246.66" width="4.40" height="4.20" fill="#58a838"/>
<text x="481.3" y="249.96" font-size="3.4" text-anchor="start" fill="#444" textLength="10" lengthAdjust="spacingAndGlyphs">H662Y</text>
<rect x="474.00" y="251.78" width="4.40" height="4.20" fill="#50a848"/>
<text x="481.3" y="255.07999999999998" font-size="3.4" text-anchor="start" fill="#444" textLength="10" lengthAdjust="spacingAndGlyphs">K354E</text>
<rect x="474.00" y="256.90" width="4.40" height="4.20" fill="#5aaa70"/>
<text x="481.3" y="260.2" font-size="3.4" text-anchor="start" fill="#444" textLength="10" lengthAdjust="spacingAndGlyphs">K666E</text>
<rect x="474.00" y="262.02" width="4.40" height="4.20" fill="#50b098"/>
<text x="481.3" y="265.32" font-size="3.4" text-anchor="start" fill="#444" textLength="10" lengthAdjust="spacingAndGlyphs">K666N</text>
<rect x="474.00" y="267.14" width="4.40" height="4.20" fill="#48b0b8"/>
<text x="481.3" y="270.44" font-size="3.4" text-anchor="start" fill="#444" textLength="10" lengthAdjust="spacingAndGlyphs">K666Q</text>
<rect x="494.80" y="205.70" width="4.20" height="4.20" fill="#3ab0a8"/>
<text x="501.9" y="209.0" font-size="3.4" text-anchor="start" fill="#444" textLength="9.9" lengthAdjust="spacingAndGlyphs">K666R</text>
<rect x="494.80" y="210.82" width="4.20" height="4.20" fill="#40a0e0"/>
<text x="501.9" y="214.12" font-size="3.4" text-anchor="start" fill="#444" textLength="9.9" lengthAdjust="spacingAndGlyphs">K666T</text>
<rect x="494.80" y="215.94" width="4.20" height="4.20" fill="#4898e0"/>
<text x="501.9" y="219.24" font-size="3.4" text-anchor="start" fill="#444" textLength="9.9" lengthAdjust="spacingAndGlyphs">K700E</text>
<rect x="494.80" y="221.06" width="4.20" height="4.20" fill="#3a78d0"/>
<text x="501.9" y="224.36" font-size="3.4" text-anchor="start" fill="#444" textLength="9.9" lengthAdjust="spacingAndGlyphs">K741E</text>
<rect x="494.80" y="226.18" width="4.20" height="4.20" fill="#6a80d8"/>
<text x="501.9" y="229.48" font-size="3.4" text-anchor="start" fill="#444" textLength="9.9" lengthAdjust="spacingAndGlyphs">N626S</text>
<rect x="494.80" y="231.30" width="4.20" height="4.20" fill="#7a60c8"/>
<text x="501.9" y="234.6" font-size="3.4" text-anchor="start" fill="#444" textLength="9.9" lengthAdjust="spacingAndGlyphs">Q699E</text>
<rect x="494.80" y="236.42" width="4.20" height="4.20" fill="#8a50b8"/>
<text x="501.9" y="239.72" font-size="3.4" text-anchor="start" fill="#444" textLength="9.9" lengthAdjust="spacingAndGlyphs">R625C</text>
<rect x="494.80" y="241.54" width="4.20" height="4.20" fill="#9048b0"/>
<text x="501.9" y="244.84" font-size="3.4" text-anchor="start" fill="#444" textLength="9.9" lengthAdjust="spacingAndGlyphs">R625H</text>
<rect x="494.80" y="246.66" width="4.20" height="4.20" fill="#b040a8"/>
<text x="501.9" y="249.96" font-size="3.4" text-anchor="start" fill="#444" textLength="9.9" lengthAdjust="spacingAndGlyphs">R625L</text>
<rect x="494.80" y="251.78" width="4.20" height="4.20" fill="#c048a0"/>
<text x="501.9" y="255.07999999999998" font-size="3.4" text-anchor="start" fill="#444" textLength="9.9" lengthAdjust="spacingAndGlyphs">T663I</text>
<rect x="494.80" y="256.90" width="4.20" height="4.20" fill="#d84090"/>
<text x="501.9" y="260.2" font-size="3.4" text-anchor="start" fill="#444" textLength="9.9" lengthAdjust="spacingAndGlyphs">Y623C</text>
<rect x="494.80" y="262.02" width="4.20" height="4.20" fill="#e06078"/>
<text x="501.9" y="265.32" font-size="3.4" text-anchor="start" fill="#444" textLength="9.9" lengthAdjust="spacingAndGlyphs">Y765C</text>
<path d="M40.6,319.6 L40.6,425 L249.5,425" fill="none" stroke="#333" stroke-width="1.4" stroke-linejoin="round"/>
<line x1="37.4" y1="324.5" x2="40.6" y2="324.5" stroke="#222" stroke-width="0.8"/>
<text x="34.2" y="325.85" font-size="3.9" text-anchor="end" fill="#111" stroke="#111" stroke-width="0.12">1.00</text>
<line x1="37.4" y1="348.3" x2="40.6" y2="348.3" stroke="#222" stroke-width="0.8"/>
<text x="34.2" y="349.65000000000003" font-size="3.9" text-anchor="end" fill="#111" stroke="#111" stroke-width="0.12">0.75</text>
<line x1="37.4" y1="372.2" x2="40.6" y2="372.2" stroke="#222" stroke-width="0.8"/>
<text x="34.2" y="373.55" font-size="3.9" text-anchor="end" fill="#111" stroke="#111" stroke-width="0.12">0.50</text>
<line x1="37.4" y1="396.1" x2="40.6" y2="396.1" stroke="#222" stroke-width="0.8"/>
<text x="34.2" y="397.45000000000005" font-size="3.9" text-anchor="end" fill="#111" stroke="#111" stroke-width="0.12">0.25</text>
<line x1="37.4" y1="420" x2="40.6" y2="420" stroke="#222" stroke-width="0.8"/>
<text x="34.2" y="421.35" font-size="3.9" text-anchor="end" fill="#111" stroke="#111" stroke-width="0.12">0.00</text>
<line x1="49.4" y1="425" x2="49.4" y2="428.2" stroke="#222" stroke-width="0.8"/>
<text x="49.4" y="434.4" font-size="3.9" text-anchor="middle" fill="#222" stroke="#222" stroke-width="0.12">0</text>
<line x1="64.6" y1="425" x2="64.6" y2="428.2" stroke="#222" stroke-width="0.8"/>
<text x="64.6" y="434.4" font-size="3.9" text-anchor="middle" fill="#222" stroke="#222" stroke-width="0.12">1</text>
<line x1="79.8" y1="425" x2="79.8" y2="428.2" stroke="#222" stroke-width="0.8"/>
<text x="79.8" y="434.4" font-size="3.9" text-anchor="middle" fill="#222" stroke="#222" stroke-width="0.12">2</text>
<line x1="95.0" y1="425" x2="95.0" y2="428.2" stroke="#222" stroke-width="0.8"/>
<text x="95.0" y="434.4" font-size="3.9" text-anchor="middle" fill="#222" stroke="#222" stroke-width="0.12">3</text>
<line x1="110.19999999999999" y1="425" x2="110.19999999999999" y2="428.2" stroke="#222" stroke-width="0.8"/>
<text x="110.19999999999999" y="434.4" font-size="3.9" text-anchor="middle" fill="#222" stroke="#222" stroke-width="0.12">4</text>
<line x1="125.4" y1="425" x2="125.4" y2="428.2" stroke="#222" stroke-width="0.8"/>
<text x="125.4" y="434.4" font-size="3.9" text-anchor="middle" fill="#222" stroke="#222" stroke-width="0.12">5</text>
<line x1="140.6" y1="425" x2="140.6" y2="428.2" stroke="#222" stroke-width="0.8"/>
<text x="140.6" y="434.4" font-size="3.9" text-anchor="middle" fill="#222" stroke="#222" stroke-width="0.12">6</text>
<line x1="155.79999999999998" y1="425" x2="155.79999999999998" y2="428.2" stroke="#222" stroke-width="0.8"/>
<text x="155.79999999999998" y="434.4" font-size="3.9" text-anchor="middle" fill="#222" stroke="#222" stroke-width="0.12">7</text>
<line x1="171.0" y1="425" x2="171.0" y2="428.2" stroke="#222" stroke-width="0.8"/>
<text x="171.0" y="434.4" font-size="3.9" text-anchor="middle" fill="#222" stroke="#222" stroke-width="0.12">8</text>
<line x1="186.2" y1="425" x2="186.2" y2="428.2" stroke="#222" stroke-width="0.8"/>
<text x="186.2" y="434.4" font-size="3.9" text-anchor="middle" fill="#222" stroke="#222" stroke-width="0.12">9</text>
<line x1="201.4" y1="425" x2="201.4" y2="428.2" stroke="#222" stroke-width="0.8"/>
<text x="201.4" y="434.4" font-size="3.9" text-anchor="middle" fill="#222" stroke="#222" stroke-width="0.12">10</text>
<line x1="216.6" y1="425" x2="216.6" y2="428.2" stroke="#222" stroke-width="0.8"/>
<text x="216.6" y="434.4" font-size="3.9" text-anchor="middle" fill="#222" stroke="#222" stroke-width="0.12">11</text>
<line x1="231.79999999999998" y1="425" x2="231.79999999999998" y2="428.2" stroke="#222" stroke-width="0.8"/>
<text x="231.79999999999998" y="434.4" font-size="3.9" text-anchor="middle" fill="#222" stroke="#222" stroke-width="0.12">12</text>
<line x1="247.0" y1="425" x2="247.0" y2="428.2" stroke="#222" stroke-width="0.8"/>
<text x="247.0" y="434.4" font-size="3.9" text-anchor="middle" fill="#222" stroke="#222" stroke-width="0.12">13</text>
<text x="21.4" y="372" font-size="5.6" text-anchor="middle" fill="#111" stroke="#111" stroke-width="0.12" font-weight="bold" textLength="28.7" lengthAdjust="spacingAndGlyphs" transform="rotate(-90 21.4 372)">Overall survival</text>
<text x="144.5" y="443.6" font-size="6.3" text-anchor="middle" fill="#111" stroke="#111" stroke-width="0.12" font-weight="bold" textLength="21.4" lengthAdjust="spacingAndGlyphs">Time (year)</text>
<path d="M286.2,319.6 L286.2,425 L497.09000000000003,425" fill="none" stroke="#333" stroke-width="1.4" stroke-linejoin="round"/>
<line x1="283.0" y1="323.9" x2="286.2" y2="323.9" stroke="#222" stroke-width="0.8"/>
<text x="279.8" y="325.25" font-size="3.9" text-anchor="end" fill="#111" stroke="#111" stroke-width="0.12">1.00</text>
<line x1="283.0" y1="347.9" x2="286.2" y2="347.9" stroke="#222" stroke-width="0.8"/>
<text x="279.8" y="349.25" font-size="3.9" text-anchor="end" fill="#111" stroke="#111" stroke-width="0.12">0.75</text>
<line x1="283.0" y1="372" x2="286.2" y2="372" stroke="#222" stroke-width="0.8"/>
<text x="279.8" y="373.35" font-size="3.9" text-anchor="end" fill="#111" stroke="#111" stroke-width="0.12">0.50</text>
<line x1="283.0" y1="396" x2="286.2" y2="396" stroke="#222" stroke-width="0.8"/>
<text x="279.8" y="397.35" font-size="3.9" text-anchor="end" fill="#111" stroke="#111" stroke-width="0.12">0.25</text>
<line x1="283.0" y1="420" x2="286.2" y2="420" stroke="#222" stroke-width="0.8"/>
<text x="279.8" y="421.35" font-size="3.9" text-anchor="end" fill="#111" stroke="#111" stroke-width="0.12">0.00</text>
<line x1="295.3" y1="425" x2="295.3" y2="428.2" stroke="#222" stroke-width="0.8"/>
<text x="295.3" y="434.4" font-size="3.9" text-anchor="middle" fill="#222" stroke="#222" stroke-width="0.12">0</text>
<line x1="310.63" y1="425" x2="310.63" y2="428.2" stroke="#222" stroke-width="0.8"/>
<text x="310.63" y="434.4" font-size="3.9" text-anchor="middle" fill="#222" stroke="#222" stroke-width="0.12">1</text>
<line x1="325.96000000000004" y1="425" x2="325.96000000000004" y2="428.2" stroke="#222" stroke-width="0.8"/>
<text x="325.96000000000004" y="434.4" font-size="3.9" text-anchor="middle" fill="#222" stroke="#222" stroke-width="0.12">2</text>
<line x1="341.29" y1="425" x2="341.29" y2="428.2" stroke="#222" stroke-width="0.8"/>
<text x="341.29" y="434.4" font-size="3.9" text-anchor="middle" fill="#222" stroke="#222" stroke-width="0.12">3</text>
<line x1="356.62" y1="425" x2="356.62" y2="428.2" stroke="#222" stroke-width="0.8"/>
<text x="356.62" y="434.4" font-size="3.9" text-anchor="middle" fill="#222" stroke="#222" stroke-width="0.12">4</text>
<line x1="371.95000000000005" y1="425" x2="371.95000000000005" y2="428.2" stroke="#222" stroke-width="0.8"/>
<text x="371.95000000000005" y="434.4" font-size="3.9" text-anchor="middle" fill="#222" stroke="#222" stroke-width="0.12">5</text>
<line x1="387.28000000000003" y1="425" x2="387.28000000000003" y2="428.2" stroke="#222" stroke-width="0.8"/>
<text x="387.28000000000003" y="434.4" font-size="3.9" text-anchor="middle" fill="#222" stroke="#222" stroke-width="0.12">6</text>
<line x1="402.61" y1="425" x2="402.61" y2="428.2" stroke="#222" stroke-width="0.8"/>
<text x="402.61" y="434.4" font-size="3.9" text-anchor="middle" fill="#222" stroke="#222" stroke-width="0.12">7</text>
<line x1="417.94" y1="425" x2="417.94" y2="428.2" stroke="#222" stroke-width="0.8"/>
<text x="417.94" y="434.4" font-size="3.9" text-anchor="middle" fill="#222" stroke="#222" stroke-width="0.12">8</text>
<line x1="433.27" y1="425" x2="433.27" y2="428.2" stroke="#222" stroke-width="0.8"/>
<text x="433.27" y="434.4" font-size="3.9" text-anchor="middle" fill="#222" stroke="#222" stroke-width="0.12">9</text>
<line x1="448.6" y1="425" x2="448.6" y2="428.2" stroke="#222" stroke-width="0.8"/>
<text x="448.6" y="434.4" font-size="3.9" text-anchor="middle" fill="#222" stroke="#222" stroke-width="0.12">10</text>
<line x1="463.93" y1="425" x2="463.93" y2="428.2" stroke="#222" stroke-width="0.8"/>
<text x="463.93" y="434.4" font-size="3.9" text-anchor="middle" fill="#222" stroke="#222" stroke-width="0.12">11</text>
<line x1="479.26" y1="425" x2="479.26" y2="428.2" stroke="#222" stroke-width="0.8"/>
<text x="479.26" y="434.4" font-size="3.9" text-anchor="middle" fill="#222" stroke="#222" stroke-width="0.12">12</text>
<line x1="494.59000000000003" y1="425" x2="494.59000000000003" y2="428.2" stroke="#222" stroke-width="0.8"/>
<text x="494.59000000000003" y="434.4" font-size="3.9" text-anchor="middle" fill="#222" stroke="#222" stroke-width="0.12">13</text>
<text x="266.8" y="372" font-size="5.6" text-anchor="middle" fill="#111" stroke="#111" stroke-width="0.12" font-weight="bold" textLength="53" lengthAdjust="spacingAndGlyphs" transform="rotate(-90 266.8 372)">Acute leukemia free survival</text>
<text x="391.3" y="443.6" font-size="6.3" text-anchor="middle" fill="#111" stroke="#111" stroke-width="0.12" font-weight="bold" textLength="21.4" lengthAdjust="spacingAndGlyphs">Time (year)</text>
<polyline points="49.40,324.40 51.50,324.40 51.50,325.20 52.30,325.20 52.30,326.30 53.30,326.30 53.30,327.60 54.60,327.60 54.60,329.30 57.60,329.30 57.60,332.10 64.20,332.10 64.20,335.30 64.60,335.30 64.60,337.60 74.50,337.60 74.50,340.20 79.00,340.20 79.00,343.30 82.10,343.30 82.10,350.50 89.20,350.50 89.20,353.90 94.10,353.90 94.10,358.30 100.10,358.30 100.10,363.50 102.70,363.50 102.70,368.30 121.50,368.30 121.50,373.80 126.50,373.80 126.50,380.10 134.60,380.10 134.60,385.40 138.10,385.40 138.10,391.40 179.30,391.40 179.30,417.80" fill="none" stroke="#ee8c8c" stroke-width="0.8" stroke-linejoin="round"/>
<polyline points="49.40,324.40 51.60,325.30 57.90,325.60 59.60,327.60 62.30,330.00 66.90,330.60 69.60,332.00 74.20,334.30 75.00,334.90 76.80,336.60 82.10,338.40 86.50,339.70 90.10,340.60 93.60,344.60 95.40,346.80 98.90,349.00 99.40,350.60 106.00,351.70 109.40,352.80 114.90,353.90 118.20,356.10 123.80,357.20 129.20,358.00 133.50,359.30 135.60,361.60 137.70,363.20 141.90,363.80 144.00,364.80 147.20,366.40 150.40,367.50 153.60,369.00 156.70,370.10 164.70,370.30 166.30,375.40 175.80,376.20 177.90,380.70 180.80,383.30 194.60,383.30 196.20,387.00 202.50,390.20 221.50,390.20 222.70,392.40 228.80,392.40 229.30,394.40 233.20,394.40 233.70,397.10 241.00,397.10 241.80,399.40 248.80,399.40" fill="none" stroke="#7fa8ee" stroke-width="0.8" stroke-linejoin="round"/>
<polyline points="49.40,324.40 51.00,328.00 53.00,330.60 55.60,333.60 58.30,336.20 60.30,339.20 62.30,342.60 64.90,347.20 67.10,349.00 71.50,353.50 75.90,358.30 80.40,364.50 83.00,366.30 88.30,369.40 90.90,371.30 95.00,375.20 99.40,379.30 105.00,382.60 110.50,385.40 114.90,387.60 123.80,388.70 128.20,391.50 133.70,394.20 139.20,395.40 145.00,396.50 150.00,397.50 160.00,400.50 170.00,402.50 177.50,404.50 185.00,406.20 195.00,407.00 207.50,408.70 211.20,410.50 242.50,410.50 245.00,411.20 248.80,411.20" fill="none" stroke="#2fb84c" stroke-width="1.1" stroke-linejoin="round"/>
<polyline points="295.00,323.50 297.00,323.50 297.00,324.20 299.00,324.20 299.00,326.60 301.20,326.60 301.20,328.80 301.60,328.80 301.60,331.00 303.80,331.00 303.80,334.20 309.60,334.20 309.60,336.80 310.50,336.80 310.50,339.90 317.10,339.90 317.10,342.60 324.60,342.60 324.60,345.70 325.50,345.70 325.50,349.20 328.20,349.20 328.20,350.10 329.10,350.10 329.10,354.10 330.40,354.10 330.40,356.30 334.60,356.30 334.60,360.20 341.30,360.20 341.30,364.20 347.90,364.20 347.90,369.50 349.90,369.50 349.90,374.60 368.80,374.60 368.80,380.40 381.80,380.40 381.80,385.50 384.80,385.50 384.80,391.10 427.20,391.10 427.20,420.50" fill="none" stroke="#f2aaaa" stroke-width="0.7" stroke-linejoin="round" stroke-dasharray="1.1 0.9"/>
<polyline points="295.00,323.50 303.80,324.90 307.40,328.40 312.70,329.70 317.10,332.40 321.50,335.50 326.90,337.30 330.00,337.70 335.30,339.60 339.30,341.60 342.00,346.30 344.60,349.00 346.60,350.30 352.60,350.90 356.60,352.30 363.20,354.90 369.80,356.20 376.50,357.60 380.50,358.90 384.40,362.20 389.00,363.60 393.00,365.00 397.00,367.00 402.30,369.00 406.20,370.30 411.60,370.30 412.90,373.60 414.90,375.60 423.50,376.20 425.50,380.20 427.50,382.20 440.00,382.60 442.70,385.60 448.00,386.20 450.00,389.60 469.90,390.00 471.90,392.20 476.50,392.90 477.80,394.50 481.20,395.50 482.50,396.60 489.80,396.90 491.10,399.30 496.80,399.30" fill="none" stroke="#a8c2f0" stroke-width="0.7" stroke-linejoin="round" stroke-dasharray="1.1 0.9"/>
<polyline points="295.00,323.50 297.70,329.70 300.30,335.00 303.80,342.10 308.30,348.30 311.80,353.60 315.80,359.40 320.50,365.50 326.10,373.30 330.00,376.80" fill="none" stroke="#44bc56" stroke-width="0.95" stroke-linejoin="round"/>
<polyline points="330.00,376.80 336.60,381.50 343.30,385.50 349.90,389.40 356.60,392.80 364.50,395.20 373.60,398.20 385.00,402.10 391.60,403.10 398.30,404.80 404.90,406.10 411.60,407.20 418.20,408.10 424.80,409.40 428.80,410.80 435.50,411.60 448.00,412.10 452.60,414.80 489.10,414.80 491.10,415.90 496.80,415.90" fill="none" stroke="#58c066" stroke-width="0.85" stroke-linejoin="round" stroke-dasharray="1.4 0.6"/>
<text x="73.6" y="315.3" font-size="4.1" text-anchor="start" fill="#111" stroke="#111" stroke-width="0.12" textLength="14.5" lengthAdjust="spacingAndGlyphs">P-value:</text>
<text x="73.6" y="319.9" font-size="4.1" text-anchor="start" fill="#111" stroke="#111" stroke-width="0.12" textLength="30" lengthAdjust="spacingAndGlyphs">1 vs 2 : P=0.059</text>
<text x="73.6" y="324.5" font-size="4.1" text-anchor="start" fill="#111" stroke="#111" stroke-width="0.12" textLength="30" lengthAdjust="spacingAndGlyphs">2 vs 3 : P&lt;0.001</text>
<text x="73.6" y="328.9" font-size="4.1" text-anchor="start" fill="#111" stroke="#111" stroke-width="0.12" textLength="30" lengthAdjust="spacingAndGlyphs">1 vs 3 : P=0.058</text>
<text x="319.4" y="315.3" font-size="4.1" text-anchor="start" fill="#111" stroke="#111" stroke-width="0.12" textLength="14.5" lengthAdjust="spacingAndGlyphs">P-value:</text>
<text x="319.4" y="319.9" font-size="4.1" text-anchor="start" fill="#111" stroke="#111" stroke-width="0.12" textLength="30" lengthAdjust="spacingAndGlyphs">1 vs 2 : P=0.012</text>
<text x="319.4" y="324.5" font-size="4.1" text-anchor="start" fill="#111" stroke="#111" stroke-width="0.12" textLength="30" lengthAdjust="spacingAndGlyphs">2 vs 3 : P&lt;0.001</text>
<text x="319.4" y="328.9" font-size="4.1" text-anchor="start" fill="#111" stroke="#111" stroke-width="0.12" textLength="30" lengthAdjust="spacingAndGlyphs">1 vs 3 : P=0.012</text>
<text x="213.7" y="320.0" font-size="4.15" text-anchor="end" fill="#e06868" textLength="37.2" lengthAdjust="spacingAndGlyphs">1 = CMML w SF3B1</text>
<text x="213.7" y="324.4" font-size="4.15" text-anchor="end" fill="#48a048" textLength="39.4" lengthAdjust="spacingAndGlyphs">2 = CMML w/o SF3B1</text>
<text x="211.7" y="328.7" font-size="4.15" text-anchor="end" fill="#6678c4" textLength="33.6" lengthAdjust="spacingAndGlyphs">3 = MDS w SF3B1</text>
<text x="459.6" y="320.0" font-size="4.15" text-anchor="end" fill="#e06868" textLength="36.8" lengthAdjust="spacingAndGlyphs">1 = CMML w SF3B1</text>
<text x="459.6" y="324.4" font-size="4.15" text-anchor="end" fill="#48a048" textLength="39.8" lengthAdjust="spacingAndGlyphs">2 = CMML w/o SF3B1</text>
<text x="457.7" y="328.7" font-size="4.15" text-anchor="end" fill="#6678c4" textLength="34.1" lengthAdjust="spacingAndGlyphs">3 = MDS w SF3B1</text>
<text x="178.8" y="375.4" font-size="4.1" text-anchor="start" fill="#6a80c8" textLength="43.9" lengthAdjust="spacingAndGlyphs">Median OS 91.7 months</text>
<text x="180.4" y="401.2" font-size="4.1" text-anchor="start" fill="#e06060" textLength="43.6" lengthAdjust="spacingAndGlyphs">Median OS 57.3 months</text>
<text x="81.5" y="403.7" font-size="4.1" text-anchor="start" fill="#4aaa4a" textLength="45.2" lengthAdjust="spacingAndGlyphs">Median OS 33.9 months</text>
<text x="390.9" y="360.1" font-size="4.1" text-anchor="start" fill="#6a80c8" textLength="47.8" lengthAdjust="spacingAndGlyphs">Median ALFS 91.7 months</text>
<text x="431.5" y="406.6" font-size="4.1" text-anchor="start" fill="#e06060" textLength="47.8" lengthAdjust="spacingAndGlyphs">Median ALFS 42.3 months</text>
<text x="328" y="409.1" font-size="4.1" text-anchor="start" fill="#4aaa4a" textLength="48" lengthAdjust="spacingAndGlyphs">Median ALFS 23.5 months</text>
</svg></body></html>
